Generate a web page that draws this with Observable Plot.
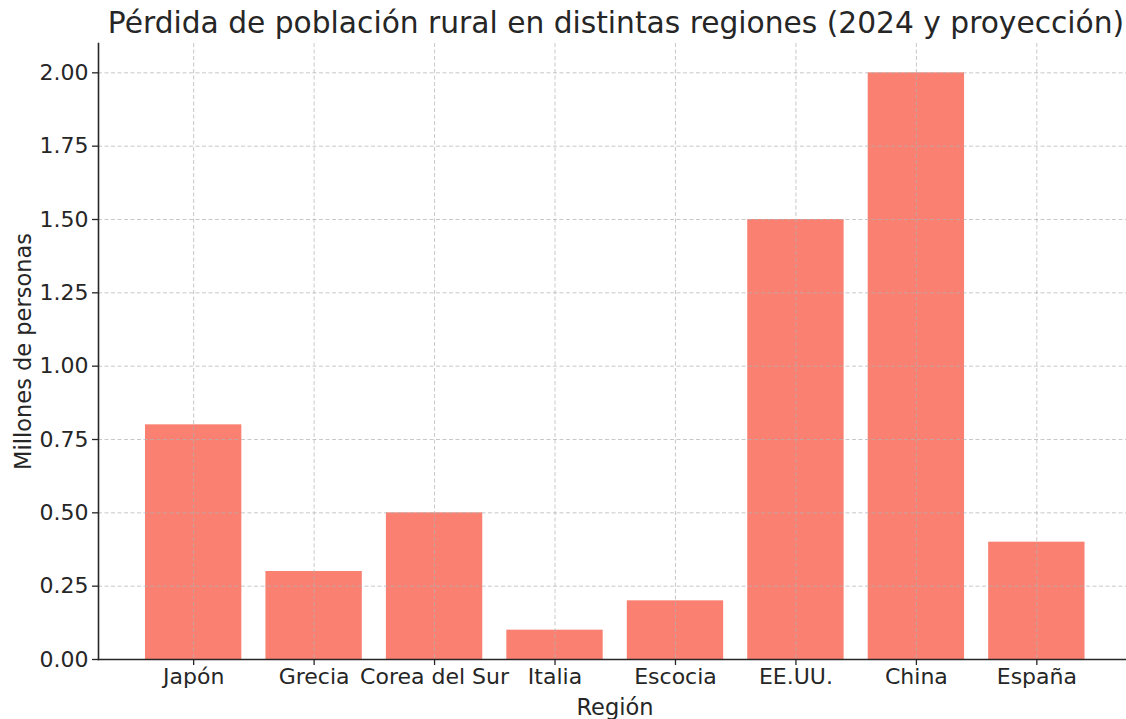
<!DOCTYPE html>
<html>
<head>
<meta charset="utf-8">
<script src="https://cdn.jsdelivr.net/npm/d3@7"></script>
<script src="https://cdn.jsdelivr.net/npm/@observablehq/plot@0.6"></script>
<style>
  html, body { margin: 0; padding: 0; background: #fff; }
  #chart svg { display: block; font-family: "DejaVu Sans", sans-serif; }
</style>
</head>
<body>
<div id="chart"></div>
<script>
const regions = ["Japón", "Grecia", "Corea del Sur", "Italia", "Escocia", "EE.UU.", "China", "España"];
const losses = [0.8, 0.3, 0.5, 0.1, 0.2, 1.5, 2.0, 0.4];
const yTicks = [0, 0.25, 0.5, 0.75, 1.0, 1.25, 1.5, 1.75, 2.0];
const titleText = "Pérdida de población rural en distintas regiones (2024 y proyección)";
const xLabel = "Región";
const yLabel = "Millones de personas";

const data = regions.map((r, i) => ({region: r, value: losses[i]}));

const W = 1126, H = 719;
const mL = 98, mT = 43, mB = 60;
const textColor = "#262626";
const gridStyle = {stroke: "#b0b0b0", strokeOpacity: 0.7, strokeDasharray: "4,2.5", strokeWidth: 1};

const chart = Plot.plot({
  width: W,
  height: H,
  marginLeft: mL,
  marginRight: 0,
  marginTop: mT,
  marginBottom: mB,
  style: {fontFamily: "DejaVu Sans, sans-serif", color: textColor, background: "#fff"},
  x: {domain: regions, range: [mL, 1131.5], paddingInner: 0.2, paddingOuter: 0.39, align: 0.5, round: false},
  y: {domain: [0, 2.1]},
  marks: [
    Plot.barY(data, {x: "region", y: "value", fill: "#FA8072"}),
    Plot.gridY(yTicks, gridStyle),
    Plot.gridX(regions, gridStyle),
    Plot.axisY(yTicks, {tickFormat: d3.format(".2f"), tickSize: 6, tickPadding: 4, fontSize: 22, stroke: textColor, strokeWidth: 1.3, label: null}),
    Plot.axisX(regions, {tickSize: 6, tickPadding: 3, fontSize: 22, stroke: textColor, strokeWidth: 1.3, label: null}),
    Plot.frame({anchor: "left", stroke: textColor, strokeWidth: 1.6}),
    Plot.frame({anchor: "bottom", stroke: textColor, strokeWidth: 1.6}),
    Plot.text([titleText], {frameAnchor: "top", lineAnchor: "middle", dx: (1131 - W) / 2 + 1, dy: -20, fontSize: 29.7, fill: textColor}),
    Plot.text([xLabel], {frameAnchor: "bottom", lineAnchor: "middle", dx: (1131 - W) / 2, dy: 48.5, fontSize: 22.5, fill: textColor}),
    Plot.text([yLabel], {frameAnchor: "left", textAnchor: "middle", lineAnchor: "middle", dx: -75, rotate: -90, fontSize: 22.5, fill: textColor})
  ]
});
document.getElementById("chart").appendChild(chart);
</script>
</body>
</html>
